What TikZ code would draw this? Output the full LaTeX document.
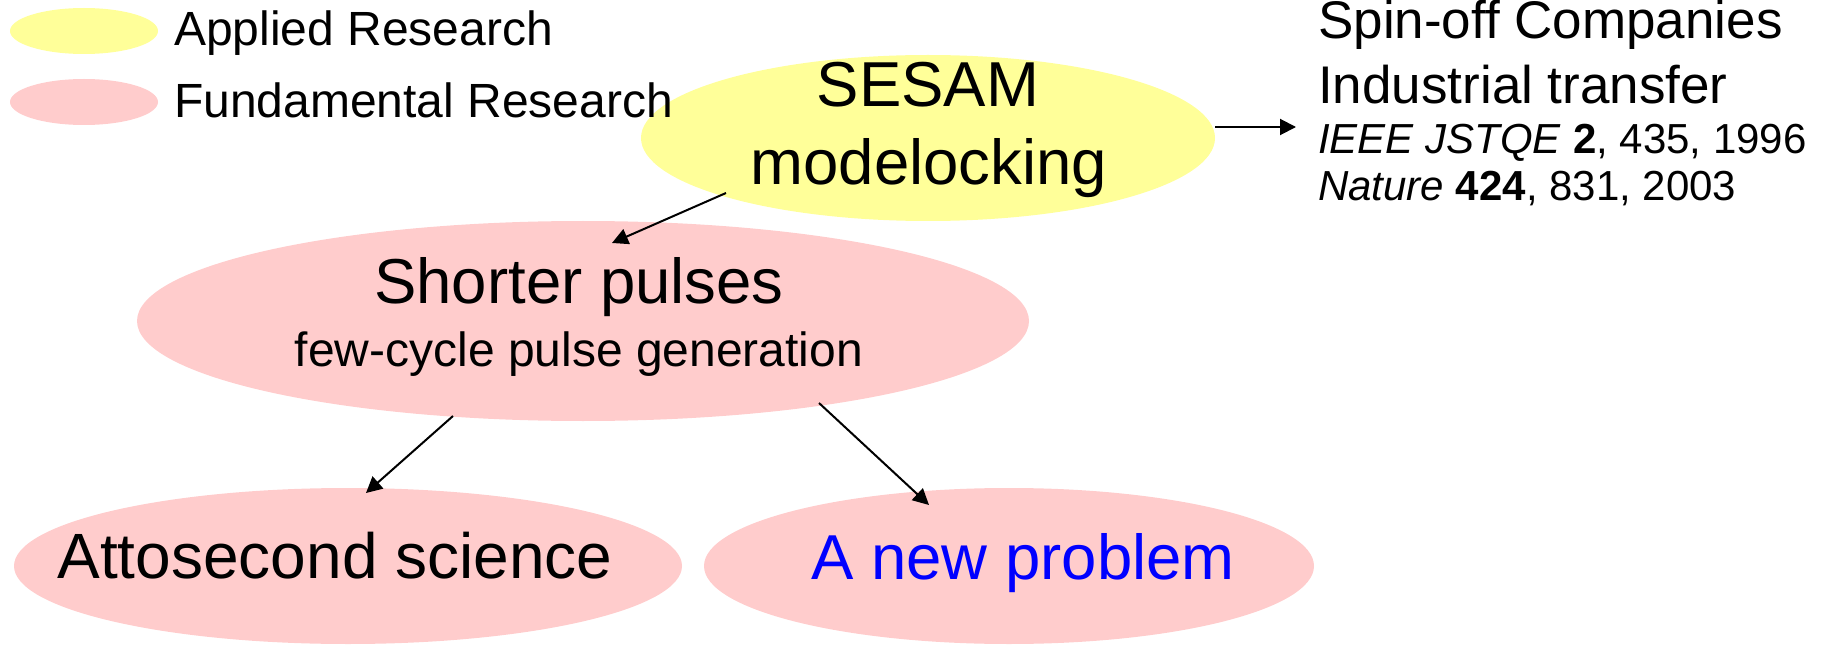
\documentclass[tikz,border=0pt]{standalone}
\usepackage{fontspec}
\setmainfont{Liberation Sans}
\usetikzlibrary{shapes.geometric,arrows.meta}
\definecolor{applc}{HTML}{FFFF99}
\definecolor{fundc}{HTML}{FFCCCC}
\definecolor{newblue}{HTML}{0000FF}
\begin{document}
\begin{tikzpicture}[x=1pt,y=-1pt,
  appl/.style={ellipse, fill=applc, draw=none, inner sep=0pt},
  fund/.style={ellipse, fill=fundc, draw=none, inner sep=0pt},
  arr/.style={draw=black, line width=2pt, -{Triangle[length=16pt,width=16pt]}},
  big/.style={font=\fontsize{63.5}{72}\selectfont, inner sep=0pt, anchor=base},
  small/.style={font=\fontsize{48}{56}\selectfont, inner sep=0pt, anchor=base},
  leg/.style={font=\fontsize{48}{56}\selectfont, anchor=base west, inner sep=0pt},
  refa/.style={font=\fontsize{53}{60}\selectfont, anchor=base west, inner sep=0pt},
  refb/.style={font=\fontsize{42}{48}\selectfont, anchor=base west, inner sep=0pt}]
\useasboundingbox (0,0) rectangle (1821,647);
% legend ellipses
\node[appl, minimum width=148pt, minimum height=46pt] (legA) at (84,31) {};
\node[fund, minimum width=148pt, minimum height=46pt] (legF) at (84,102) {};
% main ellipses
\node[appl, minimum width=574pt, minimum height=166pt] (sesam) at (928,138) {};
\node[fund, minimum width=892pt, minimum height=200pt] (shorter) at (583,321) {};
\node[fund, minimum width=668pt, minimum height=156pt] (atto) at (348,566) {};
\node[fund, minimum width=610pt, minimum height=156pt] (newp) at (1009,566) {};
% legend text
\node[leg] (legAt) at (174,46) {Applied Research};
\node[leg] (legFt) at (174,118) {Fundamental Research};
% ellipse texts
\node[big] (sesamA) at (928,107) {SESAM};
\node[big] (sesamB) at (929,185) {modelocking};
\node[big] (shorterA) at (579,303) {Shorter pulses};
\node[small] (shorterB) at (579,366) {few-cycle pulse generation};
\node[big, font=\fontsize{64}{72}\selectfont] (attoT) at (335,578) {Attosecond science};
\node[big, text=newblue] (newpT) at (1023,579) {A new problem};
% right texts
\node[refa] (spin) at (1318,39) {Spin-off Companies};
\node[refa] (indu) at (1318,104) {Industrial transfer};
\node[refb] (ieee) at (1318,154) {\textit{IEEE JSTQE} \textbf{2}, 435, 1996};
\node[refb] (nat) at (1318,201) {\textit{Nature} \textbf{424}, 831, 2003};
% arrows
\coordinate (a1s) at (726,193);
\coordinate (a1e) at (612,243);
\coordinate (a2s) at (453,416);
\coordinate (a2e) at (366,493);
\coordinate (a3s) at (819,403);
\coordinate (a3e) at (929,505);
\coordinate (a4s) at (1215,127);
\coordinate (a4e) at (1296,127);
\draw[arr] (a1s) -- (a1e);
\draw[arr] (a2s) -- (a2e);
\draw[arr] (a3s) -- (a3e);
\draw[arr] (a4s) -- (a4e);
\end{tikzpicture}
\end{document}
